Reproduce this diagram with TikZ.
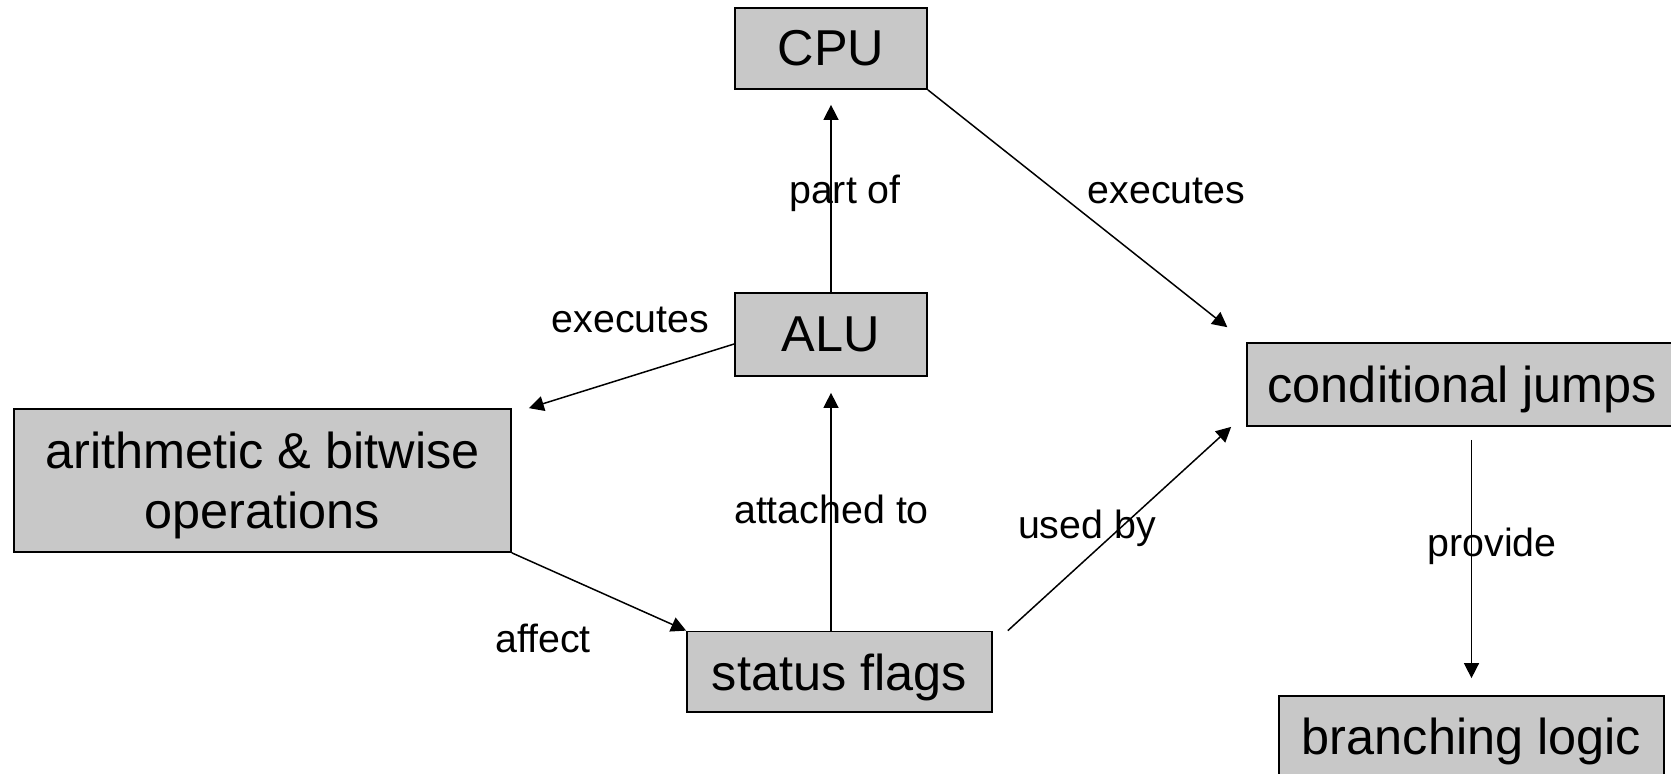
\documentclass[tikz,border=0pt]{standalone}
\usepackage{fontspec}
\setmainfont{Liberation Sans}
\usetikzlibrary{ arrows.meta,  % For sized arrow tips
                 positioning,
               }
\definecolor{boxgray}{RGB}{200,200,200}
\tikzstyle{concept} = [rectangle, draw=black, fill=boxgray, line width=1pt, inner sep=0pt, align=center, font=\fontsize{28.7}{34.4}\selectfont]
\tikzstyle{link} = [-{Triangle[length=0.3cm, width=0.3cm]}, line width=0.85pt]
\tikzstyle{relation} = [anchor=base, inner sep=0pt, font=\fontsize{22.4}{27}\selectfont]

\begin{document}
\begin{tikzpicture}[x=0.02cm, y=-0.02cm]
  \useasboundingbox (0,0) rectangle (1671,774);

  \node (cpu) [concept, minimum width=3.84cm, minimum height=1.62cm] at (831, 48.5) {CPU};
  \node (alu) [concept, minimum width=3.84cm, minimum height=1.66cm] at (831, 334.5) {ALU};
  \node (arith) [concept, minimum width=9.94cm, minimum height=2.86cm] at (262.5, 480.5) {arithmetic \& bitwise\\\raisebox{0pt}[\height][0pt]{operations}};
  \node (flags) [concept, minimum width=6.1cm, minimum height=1.61cm, text depth=0pt] at (839.5, 671.75) {status flags};
  \node (cond) [concept, minimum width=8.62cm, minimum height=1.66cm, text depth=0pt] at (1462.5, 384.5) {conditional jumps};
  \node (branch) [concept, minimum width=7.7cm, minimum height=1.62cm, text depth=0pt] at (1471.5, 736.5) {branching logic};

  \draw [link, shorten >=0.3cm] (alu) -- (cpu);
  \draw [link, shorten >=0.48cm] (cpu.south east) -- (cond.north west);
  \draw [link] ([yshift=-0.19cm]alu.west) -- ([xshift=0.34cm]arith.north east);
  \draw [link] (arith.south east) -- (flags.north west);
  \draw [link, shorten >=0.32cm] (alu.south |- flags.north) -- (alu.south);
  \draw [link] ([xshift=0.3cm]flags.north east) -- ([xshift=-0.3cm]cond.south west);
  \draw [link, shorten <=0.26cm, shorten >=0.34cm] (branch.north |- cond.south) -- (branch.north);

  \node (l_partof) [relation] at (845, 203) {part of};
  \node (l_exec_cpu) [relation] at (1166.5, 203) {executes};
  \node (l_exec_alu) [relation] at (630.5, 332) {executes};
  \node (l_attached) [relation] at (831.5, 523) {attached to};
  \node (l_usedby) [relation] at (1087, 538) {used by};
  \node (l_provide) [relation] at (1492, 556) {provide};
  \node (l_affect) [relation] at (543, 652) {affect};
\end{tikzpicture}
\end{document}
